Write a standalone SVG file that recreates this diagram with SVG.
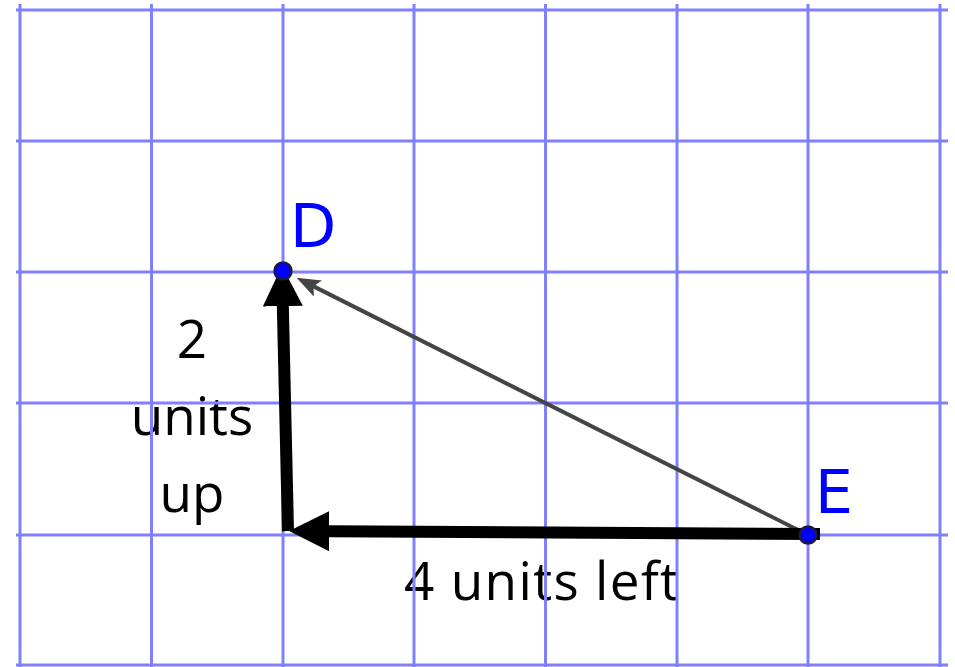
<svg xmlns="http://www.w3.org/2000/svg" width="955" height="667" viewBox="0 0 955 667">
<defs>
<style>
.grid line{stroke:#8080ff;stroke-width:3}
.lbl{font-family:"Open Sans","Liberation Sans",sans-serif;font-size:53px;fill:#000}
.pt{font-family:"DejaVu Sans","Liberation Sans",sans-serif;font-size:60px;fill:#0000ff}
.thick{stroke:#000;stroke-width:12;fill:none}
.thin{stroke:#444;stroke-width:4;fill:none}
.dot{fill:#0000ff;stroke:#1a1a40;stroke-width:2.5}
</style>
<marker id="bigHead" markerUnits="userSpaceOnUse" markerWidth="40" markerHeight="40" viewBox="0 0 36 36" refX="1" refY="18" orient="auto">
<path d="M0,0 L36,18 L0,36 Z" fill="#000"/>
</marker>
<marker id="smallHead" markerUnits="userSpaceOnUse" markerWidth="24" markerHeight="18" viewBox="0 0 24 18" refX="6" refY="9" orient="auto">
<path d="M0,0 L24,9 L0,18 L5,9 Z" fill="#444"/>
</marker>
</defs>
<rect width="955" height="667" fill="#fff"/>
<g id="labels-text">
<text class="lbl" x="192" y="358" text-anchor="middle">2</text>
<text class="lbl" x="192" y="435" text-anchor="middle">units</text>
<text class="lbl" x="192" y="512" text-anchor="middle">up</text>
<text class="lbl" x="404" y="600" textLength="275" lengthAdjust="spacing">4 units left</text>
</g>
<g class="grid" id="grid">
<line x1="20" y1="4" x2="20" y2="667"/>
<line x1="151.5" y1="4" x2="151.5" y2="667"/>
<line x1="283" y1="4" x2="283" y2="667"/>
<line x1="414" y1="4" x2="414" y2="667"/>
<line x1="545.5" y1="4" x2="545.5" y2="667"/>
<line x1="677" y1="4" x2="677" y2="667"/>
<line x1="808" y1="4" x2="808" y2="667"/>
<line x1="940" y1="4" x2="940" y2="667"/>
<line x1="16" y1="10" x2="948" y2="10"/>
<line x1="16" y1="141" x2="948" y2="141"/>
<line x1="16" y1="272" x2="948" y2="272"/>
<line x1="16" y1="403" x2="948" y2="403"/>
<line x1="16" y1="535" x2="948" y2="535"/>
<line x1="16" y1="665" x2="948" y2="665"/>
</g>
<g id="connectors">
<line class="thin" x1="808" y1="535" x2="312.6" y2="285.9" marker-end="url(#smallHead)"/>
<line class="thick" x1="820" y1="534" x2="328" y2="531.2" marker-end="url(#bigHead)"/>
<line class="thick" x1="288" y1="531" x2="282.8" y2="305" marker-end="url(#bigHead)"/>
</g>
<g id="node-D">
<circle class="dot" cx="283" cy="271" r="8.5"/>
<text class="pt" x="290" y="247">D</text>
</g>
<g id="node-E">
<circle class="dot" cx="808" cy="535" r="8.5"/>
<text class="pt" x="815" y="513">E</text>
</g>
</svg>
